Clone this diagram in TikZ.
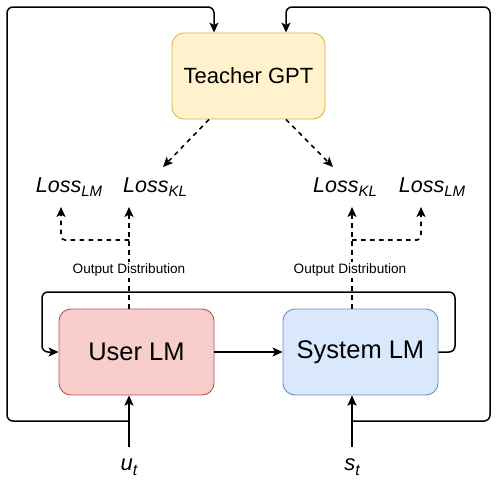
\documentclass[tikz,border=0pt]{standalone}
\usepackage{fontspec}
\setmainfont{Liberation Sans}
\usetikzlibrary{arrows.meta}
\definecolor{tfill}{HTML}{FFF2CC}\definecolor{tdraw}{HTML}{D6B656}
\definecolor{ufill}{HTML}{F8CECC}\definecolor{udraw}{HTML}{B85450}
\definecolor{sfill}{HTML}{DAE8FC}\definecolor{sdraw}{HTML}{6C8EBF}
\newcommand{\lossl}[1]{{\fontsize{21.5}{24}\selectfont\itshape Loss\raisebox{-0.3ex}{\fontsize{15}{16}\selectfont #1}}}
\newcommand{\varl}[2]{{\fontsize{22}{24}\selectfont\itshape #1\raisebox{-0.4ex}{\fontsize{16}{16}\selectfont #2}}}
\tikzset{
  box/.style={draw, rounded corners=12pt, line width=0.9pt, align=center},
  conn/.style={line width=1.5pt, -{Stealth[length=10pt,width=9pt,inset=2.5pt]}},
  thickconn/.style={line width=2.5pt, -{Stealth[length=10pt,width=9pt,inset=2pt]}},
  dconn/.style={line width=1.6pt, dash pattern=on 4.5pt off 4.5pt, -{Stealth[length=10pt,width=9pt,inset=2.5pt]}},
  lbl/.style={inner sep=1pt},
  outlbl/.style={fill=white, inner sep=1.5pt, font=\fontsize{13.6}{15}\selectfont}
}
\begin{document}
\begin{tikzpicture}[x=1pt,y=-1pt]
\useasboundingbox (0,0) rectangle (498,485);
% boxes
\node[box, fill=tfill, draw=tdraw, minimum width=153pt, minimum height=86pt, font=\fontsize{22}{24}\selectfont] (teacher) at (248.5,76) {Teacher GPT};
\node[box, fill=ufill, draw=udraw, minimum width=155pt, minimum height=86pt, font=\fontsize{25.5}{28}\selectfont] (user) at (136.5,352) {User LM};
\node[box, fill=sfill, draw=sdraw, minimum width=155pt, minimum height=86pt, font=\fontsize{25.5}{28}\selectfont] (system) at (360.5,352) {System LM};
% input labels
\node[lbl] (ut) at (129,467) {\varl{u}{t}};
\node[lbl] (st) at (352,467) {\varl{s}{t}};
% loss labels
\node[lbl] (lossLMa) at (69,187) {\lossl{LM}};
\node[lbl] (lossKLa) at (155,187) {\lossl{KL}};
\node[lbl] (lossKLb) at (345,187) {\lossl{KL}};
\node[lbl] (lossLMb) at (432,187) {\lossl{LM}};
% coordinates
\coordinate (ubot) at (129,447);
\coordinate (sbot) at (352,447);
\coordinate (uj) at (129,421);
\coordinate (sj) at (352,421);
\coordinate (tl) at (214,7);
\coordinate (tr) at (286,7);
\coordinate (ubr) at (129,240);
\coordinate (sbr) at (352,240);
% inputs
\draw[thickconn] (ubot) -- (ubot |- user.south);
\draw[thickconn] (sbot) -- (sbot |- system.south);
% outer loops
\draw[conn, rounded corners=6pt] (uj) -- (7,421) -- (7,7) -- (tl) -- (tl |- teacher.north);
\draw[conn, rounded corners=6pt] (sj) -- (490,421) -- (490,7) -- (tr) -- (tr |- teacher.north);
% user -> system
\draw[conn] (user.east) -- (system.west);
% inner loop
\draw[conn, rounded corners=6pt] (system.east) -- (455,352) -- (455,292) -- (42,292) -- (42,352) -- (user.west);
% teacher -> KL
\draw[dconn] (teacher.south -| 209,0) -- (163,167);
\draw[dconn] (teacher.south -| 286,0) -- (333,167);
% output distributions
\draw[dconn] (user.north -| ubr) -- (129,207);
\draw[dconn, rounded corners=4pt] (ubr) -- (61,240) -- (61,207);
\draw[dconn] (system.north -| sbr) -- (352,207);
\draw[dconn, rounded corners=4pt] (sbr) -- (421,240) -- (421,207);
\node[outlbl] (oda) at (129,270) {Output Distribution};
\node[outlbl] (odb) at (350,270) {Output Distribution};
\end{tikzpicture}
\end{document}
